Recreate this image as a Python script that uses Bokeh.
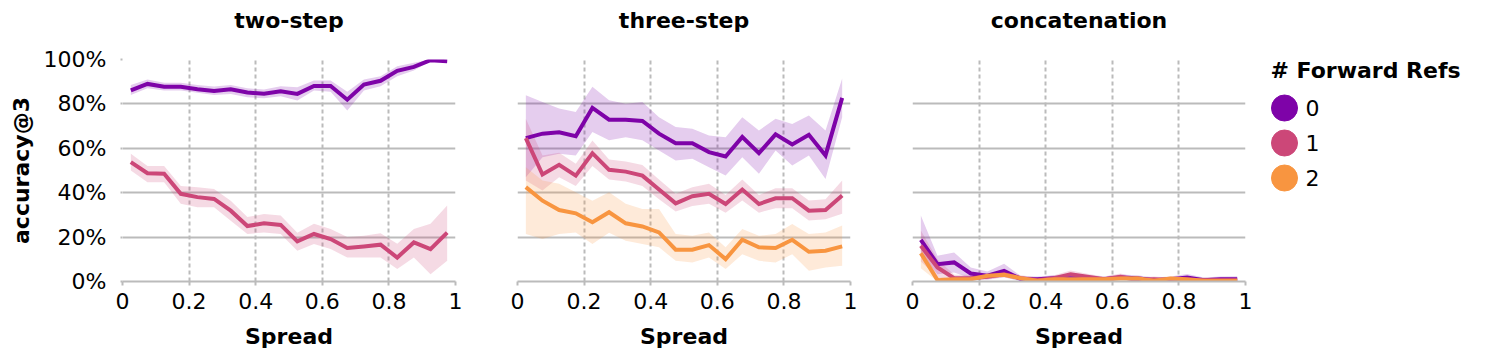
from bokeh.plotting import figure
from bokeh.layouts import row, column
from bokeh.models import (Range1d, FactorRange, FixedTicker, NumeralTickFormatter,
                          Spacer, LinearAxis)
from bokeh.core.properties import value
from bokeh.embed import file_html
from bokeh.resources import INLINE

FONT = "DejaVu Sans"
FS = "22px"
COLORS = ["#7e03a8", "#cc4778", "#f89540"]
REFS = ["0", "1", "2"]
TASKS = ["two-step", "three-step", "concatenation"]
LEGEND_TITLE = "# Forward Refs"

spread = [0.025, 0.075, 0.125, 0.175, 0.225, 0.275, 0.325, 0.375, 0.425, 0.475,
          0.525, 0.575, 0.625, 0.675, 0.725, 0.775, 0.825, 0.875, 0.925, 0.975]

# ---- two-step ----
two_0 = [86.1, 89.0, 87.7, 87.7, 86.6, 85.8, 86.6, 85.1, 84.6, 85.7,
         84.5, 88.1, 88.1, 81.9, 88.7, 90.4, 94.9, 96.7, 99.7, 99.2]
two_0_lo = [84.0, 87.0, 86.0, 86.0, 85.0, 84.0, 84.5, 83.0, 82.5, 83.5,
            81.5, 86.0, 85.5, 77.0, 86.0, 88.0, 92.5, 95.0, 99.2, 98.8]
two_0_hi = [88.5, 91.0, 89.5, 89.5, 88.5, 87.8, 88.5, 87.0, 86.5, 88.0,
            87.5, 90.5, 90.5, 85.5, 91.0, 92.5, 97.0, 98.5, 100.0, 99.8]
two_1 = [53.8, 48.8, 48.5, 39.5, 38.0, 37.2, 31.9, 25.0, 26.2, 25.5,
         18.1, 21.4, 19.1, 15.1, 15.8, 16.6, 10.8, 17.6, 14.6, 22.0]
two_1_lo = [50.0, 44.7, 44.7, 35.0, 33.4, 33.4, 27.4, 21.4, 22.1, 21.4,
            13.9, 16.9, 14.6, 10.8, 10.8, 10.8, 5.6, 10.8, 3.3, 9.3]
two_1_hi = [57.5, 52.0, 52.0, 43.0, 42.5, 41.7, 36.4, 29.0, 30.4, 29.7,
            22.0, 26.0, 23.6, 20.0, 20.6, 21.7, 17.0, 23.6, 26.0, 34.2]

# ---- three-step ----
three_0 = [64.6, 66.6, 67.2, 65.4, 78.2, 72.9, 72.9, 72.3, 66.6, 62.3,
           62.3, 58.3, 56.3, 65.1, 57.8, 66.3, 61.7, 66.1, 56.8, 82.7]
three_0_lo = [47.0, 56.0, 57.5, 56.8, 67.3, 63.6, 65.0, 63.6, 59.0, 54.5,
              55.3, 51.5, 47.7, 56.0, 48.5, 59.0, 52.3, 56.8, 46.2, 74.0]
three_0_hi = [83.9, 80.9, 77.9, 76.4, 87.7, 81.6, 80.1, 80.9, 74.0, 69.6,
              68.8, 65.8, 65.0, 74.0, 68.0, 73.3, 71.0, 74.8, 68.0, 91.4]
three_1 = [64.6, 48.2, 52.6, 47.7, 57.8, 50.3, 49.5, 47.7, 41.4, 35.2,
           38.4, 39.5, 34.9, 41.4, 34.9, 37.5, 37.5, 31.9, 32.2, 38.7]
three_1_lo = [45.5, 41.0, 47.0, 43.0, 52.0, 46.0, 45.0, 43.0, 37.0, 31.5,
              34.0, 35.0, 31.0, 36.5, 31.0, 33.0, 33.0, 27.5, 28.0, 30.5]
three_1_hi = [73.3, 56.8, 58.0, 53.0, 63.5, 55.0, 54.0, 52.5, 46.0, 39.5,
              42.5, 44.0, 39.0, 46.0, 39.0, 42.0, 42.0, 36.5, 37.0, 45.5]
three_2 = [42.5, 36.4, 32.2, 30.7, 26.7, 31.2, 26.2, 24.8, 22.1, 14.3,
           14.3, 16.4, 10.1, 18.8, 15.4, 15.1, 18.8, 13.4, 13.9, 15.8]
three_2_lo = [21.4, 19.1, 21.4, 22.1, 16.9, 22.0, 18.4, 16.9, 15.4, 9.3,
              8.6, 10.8, 5.6, 12.3, 9.3, 8.6, 12.3, 4.8, 6.3, 7.1]
three_2_hi = [51.5, 45.5, 44.0, 40.2, 36.4, 40.2, 35.0, 32.7, 32.7, 21.4,
              20.6, 22.1, 15.4, 23.6, 20.6, 21.4, 25.9, 21.4, 22.1, 25.2]

# ---- concatenation ----
cat_0 = [18.7, 7.8, 8.6, 3.6, 2.6, 4.8, 1.1, 1.0, 1.5, 1.5,
         1.5, 1.0, 1.8, 1.5, 0.6, 1.0, 1.8, 0.6, 1.0, 1.0]
cat_0_lo = [12.3, 3.3, 4.0, 1.5, 1.0, 2.0, 0.0, 0.0, 0.5, 0.5,
            0.5, 0.0, 0.8, 0.5, 0.0, 0.0, 0.8, 0.0, 0.0, 0.0]
cat_0_hi = [29.7, 11.6, 13.1, 6.3, 4.5, 8.0, 2.5, 2.2, 2.8, 2.8,
            2.8, 2.2, 3.2, 2.8, 1.8, 2.2, 3.4, 1.8, 2.2, 2.4]
cat_1 = [16.1, 6.3, 1.5, 1.5, 2.1, 3.3, 1.5, 0.6, 1.5, 3.3,
         2.1, 1.0, 2.1, 0.6, 1.0, 0.6, 0.6, 0.6, 0.6, 0.6]
cat_1_lo = [9.0, 2.0, 0.3, 0.3, 0.8, 1.8, 0.4, 0.0, 0.4, 1.8,
            0.8, 0.0, 0.8, 0.0, 0.0, 0.0, 0.0, 0.0, 0.0, 0.0]
cat_1_hi = [23.0, 10.0, 3.0, 3.0, 3.5, 5.0, 2.8, 1.8, 2.8, 5.0,
            3.5, 2.2, 3.6, 1.8, 2.2, 1.8, 1.8, 1.8, 1.8, 1.8]
cat_2 = [12.7, 0.6, 1.0, 1.0, 2.6, 3.0, 1.5, 0.3, 1.0, 1.0,
         1.0, 1.0, 1.4, 1.5, 0.3, 1.4, 1.0, 0.3, 0.3, 0.3]
cat_2_lo = [6.0, 0.0, 0.2, 0.2, 1.6, 2.0, 0.6, 0.0, 0.2, 0.2,
            0.2, 0.2, 0.5, 0.6, 0.0, 0.5, 0.2, 0.0, 0.0, 0.0]
cat_2_hi = [17.0, 2.0, 1.8, 1.8, 3.6, 4.0, 2.4, 1.1, 1.8, 1.8,
            1.8, 1.8, 2.3, 2.4, 1.1, 2.3, 1.8, 1.1, 1.1, 1.1]

x_ticks = [0, 0.2, 0.4, 0.6, 0.8, 1]
x_tick_labels = ["0", "0.2", "0.4", "0.6", "0.8", "1"]
y_ticks = [0, 0.2, 0.4, 0.6, 0.8, 1]

panels = [
    [(two_0, two_0_lo, two_0_hi), (two_1, two_1_lo, two_1_hi)],
    [(three_0, three_0_lo, three_0_hi), (three_1, three_1_lo, three_1_hi),
     (three_2, three_2_lo, three_2_hi)],
    [(cat_0, cat_0_lo, cat_0_hi), (cat_1, cat_1_lo, cat_1_hi), (cat_2, cat_2_lo, cat_2_hi)],
]

GRID = "#bbbbbb"
FRAME_W = 333
FRAME_H = 222
TOP = 59
BOTTOM = 76
figs = []
for i, (task, series) in enumerate(zip(TASKS, panels)):
    left = 122 if i == 0 else 31
    right = 10 if i == 2 else 31
    p = figure(width=left + FRAME_W + right, height=TOP + FRAME_H + BOTTOM,
               x_range=Range1d(0, 1), y_range=Range1d(0, 1),
               output_backend="svg", toolbar_location=None,
               min_border_left=left, min_border_right=right,
               min_border_top=TOP, min_border_bottom=BOTTOM)
    # facet title: a tick-less axis above the panel carrying the task name
    head = LinearAxis(ticker=FixedTicker(ticks=[]), axis_label=task,
                      axis_label_text_font=FONT, axis_label_text_font_size=FS,
                      axis_label_text_font_style="bold", axis_label_text_color="#000000",
                      axis_label_standoff=27, axis_line_color=None,
                      major_tick_line_color=None, minor_tick_line_color=None,
                      major_tick_out=0, major_tick_in=0, minor_tick_out=0,
                      major_label_standoff=0)
    p.add_layout(head, "above")
    p.outline_line_color = None
    p.background_fill_color = "white"
    p.border_fill_color = "white"

    for k, (v, lo, hi) in enumerate(series):
        p.varea(x=spread, y1=[a / 100 for a in lo], y2=[a / 100 for a in hi],
                fill_color=COLORS[k], fill_alpha=0.2)
    for k, (v, lo, hi) in enumerate(series):
        p.line(x=spread, y=[a / 100 for a in v], line_color=COLORS[k],
               line_width=4, line_join="miter")

    xa = p.below[0]
    xa.ticker = FixedTicker(ticks=x_ticks)
    xa.major_label_overrides = {t: s for t, s in zip(x_ticks, x_tick_labels)}
    xa.axis_label = "Spread"
    xa.axis_label_text_font = FONT
    xa.axis_label_text_font_size = FS
    xa.axis_label_text_font_style = "bold"
    xa.axis_label_text_color = "#000000"
    xa.axis_label_standoff = 12
    xa.major_label_text_font = FONT
    xa.major_label_text_font_size = FS
    xa.major_label_text_color = "#000000"
    xa.major_label_standoff = 7
    xa.axis_line_color = GRID
    xa.axis_line_width = 2
    xa.major_tick_line_color = GRID
    xa.major_tick_line_width = 2
    xa.major_tick_out = 4
    xa.major_tick_in = 0
    xa.minor_tick_line_color = None

    ya = p.left[0]
    ya.ticker = FixedTicker(ticks=y_ticks)
    ya.formatter = NumeralTickFormatter(format="0%")
    if i == 0:
        ya.axis_label = "accuracy@3"
        ya.axis_label_text_font = FONT
        ya.axis_label_text_font_size = FS
        ya.axis_label_text_font_style = "bold"
        ya.axis_label_text_color = "#000000"
        ya.axis_label_standoff = 7
        ya.major_label_text_font = FONT
        ya.major_label_text_font_size = FS
        ya.major_label_text_color = "#000000"
        ya.major_label_standoff = 14
        ya.axis_line_color = None
        ya.major_tick_line_color = GRID
        ya.major_tick_line_width = 2
        ya.major_tick_out = 2
        ya.major_tick_in = 0
        ya.minor_tick_line_color = None
    else:
        ya.visible = False

    p.ygrid.ticker = FixedTicker(ticks=y_ticks)
    p.ygrid.grid_line_color = GRID
    p.ygrid.grid_line_width = 2
    p.xgrid.ticker = FixedTicker(ticks=x_ticks)
    p.xgrid.grid_line_color = GRID
    p.xgrid.grid_line_width = 2
    p.xgrid.grid_line_dash = "4 3"
    figs.append(p)

# ---- legend: its own small figure, one row per number of forward refs ----
leg = figure(frame_width=230, frame_height=105,
             x_range=Range1d(-29, 201), y_range=FactorRange(factors=list(reversed(REFS))),
             output_backend="svg", toolbar_location=None,
             min_border_left=0, min_border_right=0, min_border_top=0, min_border_bottom=0)
leg.title.text = LEGEND_TITLE
leg.title.align = "left"
leg.title.offset = 15
leg.title.text_font = FONT
leg.title.text_font_size = FS
leg.title.text_font_style = "bold"
leg.title.text_color = "#000000"
leg.title.standoff = 16
leg.axis.visible = False
leg.grid.visible = False
leg.outline_line_color = None
leg.scatter(x=[0] * len(REFS), y=REFS, marker="circle", size=26,
            fill_color=COLORS, line_color=COLORS)
leg.text(x=[0] * len(REFS), y=REFS, text=REFS, x_offset=21,
         text_font=value(FONT), text_font_size=FS, text_color="#000000",
         text_baseline="middle", text_align="left")

layout = row(*figs, column(Spacer(height=47), leg, spacing=0), spacing=0)
open("out.html", "w").write(file_html(layout, INLINE))
